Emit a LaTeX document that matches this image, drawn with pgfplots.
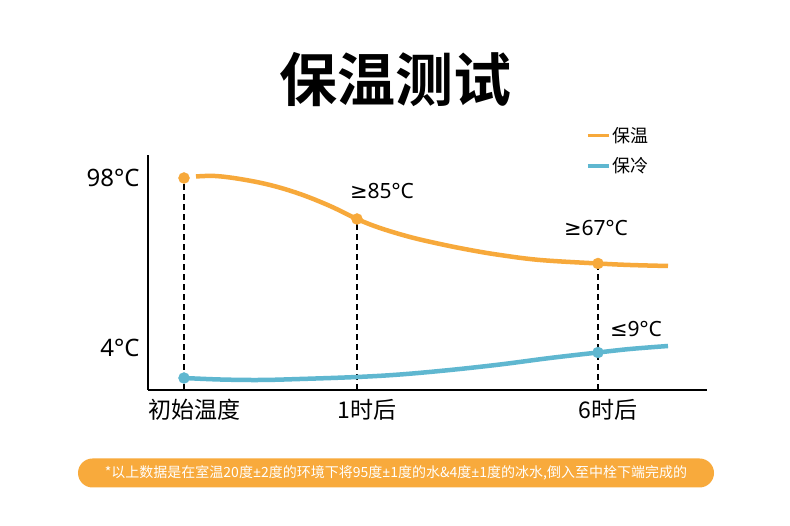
\documentclass[border=0pt]{standalone}
\usepackage{fontspec}
\setmainfont{Noto Sans CJK SC}[BoldFont={Noto Sans CJK SC Bold}]
\newfontfamily\latinfont{Noto Sans}
\newfontfamily\symfont{DejaVu Sans}
\usepackage{pgfplots}
\pgfplotsset{compat=1.18}
\definecolor{warm}{HTML}{F7A93B}
\definecolor{cold}{HTML}{5FB7D0}
\definecolor{banner}{HTML}{F8AA3C}
\begin{document}
\begin{tikzpicture}[x=1pt,y=1pt]
\path[use as bounding box, fill=white] (0,0) rectangle (790,526);
\begin{axis}[
  at={(148pt,136pt)}, anchor=south west,
  scale only axis, width=559pt, height=235pt,
  xmin=148, xmax=707, ymin=0, ymax=235,
  axis x line=bottom, axis y line=left,
  axis line style={line width=2pt, -},
  clip=false,
  xtick={184,357,598}, xticklabels={初始温度,1时后,6时后},
  ytick={42,212}, yticklabels={4°C,98°C},
  major tick length=0pt,
  tick label style={font=\fontsize{23}{23}\selectfont},
  yticklabel style={font=\fontsize{24}{24}\selectfont\latinfont, xshift=-5pt},
  xticklabel style={xshift=10pt, yshift=-6pt},
  legend style={at={(axis cs:583,267)}, anchor=north west, draw=none, fill=none,
    font=\fontsize{18}{18}\selectfont, row sep=10pt},
  legend cell align=left,
  legend image code/.code={\draw[#1, line width=3.5pt] (0pt,0pt) -- (21pt,0pt);},
]
\addplot[ycomb, black, line width=1.4pt, dash pattern=on 6pt off 4pt, forget plot]
  coordinates {(184,212) (357,171) (598,126.5)};
\addplot[warm, line width=4.5pt, smooth, tension=0.6] coordinates {
  (196,213.5) (215,214) (240,211) (270,205) (300,196) (330,184) (357,171)
  (380,162) (410,153) (440,146) (470,140) (500,135) (540,130) (598,126.5)
  (630,125) (668,124)};
\addlegendentry{保温}
\addplot[cold, line width=4.5pt, smooth, tension=0.6] coordinates {
  (184,12) (220,10.5) (260,10) (300,11) (357,13) (400,15.5) (450,20)
  (500,25.5) (550,32) (598,37.5) (630,41) (668,44)};
\addlegendentry{保冷}
\addplot[only marks, mark=*, mark size=5.5pt, draw=warm, fill=warm, forget plot]
  coordinates {(184,212) (357,171) (598,126.5)};
\addplot[only marks, mark=*, mark size=5.5pt, draw=cold, fill=cold, forget plot]
  coordinates {(184,12) (598,37.5)};
\node[font=\fontsize{21}{21}\selectfont\latinfont] at (axis cs:382,199) {{\symfont ≥}85°C};
\node[font=\fontsize{21}{21}\selectfont\latinfont] at (axis cs:596,162) {{\symfont ≥}67°C};
\node[font=\fontsize{21}{21}\selectfont\latinfont] at (axis cs:636,61) {{\symfont ≤}9°C};
\node[font=\fontsize{58}{58}\selectfont\bfseries] at (axis cs:395,310) {保温测试};
\node[fill=banner, rounded corners=14.5pt, minimum width=636pt, minimum height=29pt,
  text=white, font=\fontsize{14}{14}\selectfont] at (axis cs:396,-83)
  {*以上数据是在室温20度{\latinfont ±}2度的环境下将95度{\latinfont ±}1度的水\&4度{\latinfont ±}1度的冰水,倒入至中栓下端完成的};
\end{axis}
\end{tikzpicture}
\end{document}
